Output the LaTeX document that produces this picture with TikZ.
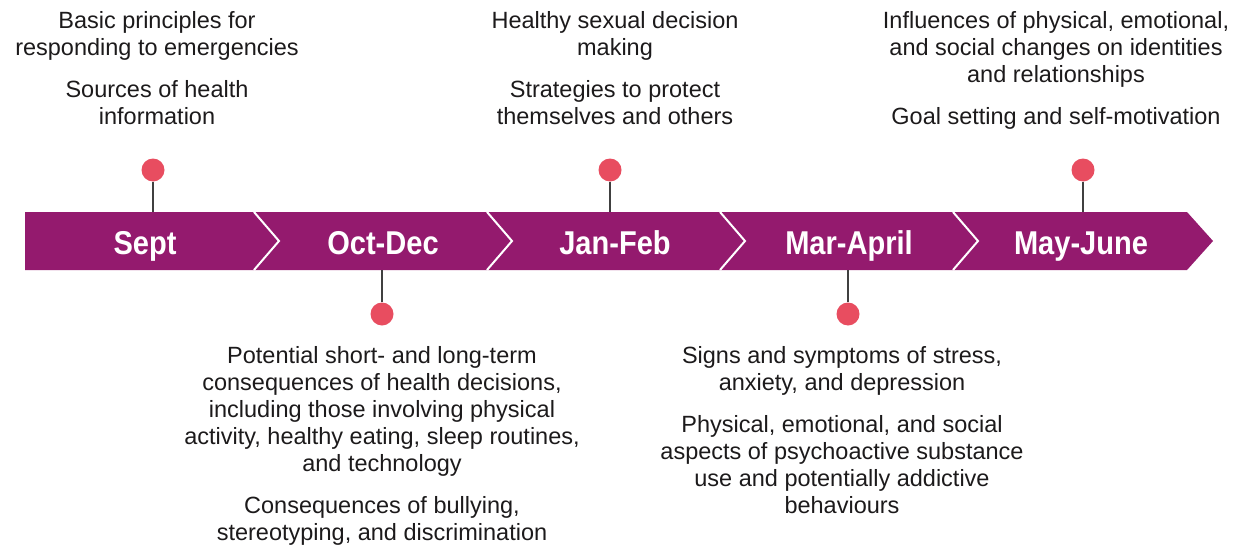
\documentclass[tikz,border=0pt]{standalone}
\usepackage{fontspec}
\setmainfont{Liberation Sans}
\newfontfamily\bandfont[FakeStretch=0.88]{Liberation Sans}
\definecolor{bandpurple}{HTML}{941A6E}
\definecolor{pinred}{HTML}{E84D60}
\definecolor{inkgray}{HTML}{1C1A1B}
\tikzset{
  monthlabel/.style={anchor=base, text=white, inner sep=0pt,
    font=\bandfont\bfseries\fontsize{33}{33}\selectfont},
  topic/.style={align=center, inner sep=0pt, text=inkgray,
    font=\fontsize{23.5}{27}\selectfont},
  pindot/.style={circle, fill=pinred, minimum size=23pt, inner sep=0pt},
  stem/.style={draw=black!75, line width=1.4pt},
  chevron/.style={draw=white, line width=2pt}
}
\begin{document}
\begin{tikzpicture}[x=1pt,y=-1pt]
      \useasboundingbox (0,0) rectangle (1250,546);
      %\draw [help lines] (0,0) grid (1250,546);
      \fill[bandpurple] (25,212) -- (1187,212) -- (1213,241) -- (1187,270) -- (25,270) -- cycle;
      \foreach \x in {254,487,720,953}
        \draw[chevron] (\x,212) -- (\x+25,241) -- (\x,270);

      \node[monthlabel] (sept) at (145,254) {Sept};
      \node[monthlabel] (octdec) at (383,254) {Oct-Dec};
      \node[monthlabel] (janfeb) at (615,254) {Jan-Feb};
      \node[monthlabel] (marapril) at (849,254) {Mar-April};
      \node[monthlabel] (mayjune) at (1081,254) {May-June};

      \node[pindot] (septpin) at (153,170) {};
      \node[pindot] (octdecpin) at (382,314) {};
      \node[pindot] (janfebpin) at (610,170) {};
      \node[pindot] (marapripin) at (848,314) {};
      \node[pindot] (mayjunepin) at (1083,170) {};
      \coordinate (septedge) at (153,212);
      \coordinate (octdecedge) at (382,270);
      \coordinate (janfebedge) at (610,212);
      \coordinate (marapriledge) at (848,270);
      \coordinate (mayjuneedge) at (1083,212);

      \draw[stem] (septpin) -- (septedge);
      \draw[stem] (octdecpin) -- (octdecedge);
      \draw[stem] (janfebpin) -- (janfebedge);
      \draw[stem] (marapripin) -- (marapriledge);
      \draw[stem] (mayjunepin) -- (mayjuneedge);

      \node[topic, anchor=north] (septtext) at (157,11.5)
        {Basic principles for\\responding to emergencies\\[15pt]Sources of health\\information};
      \node[topic, anchor=north] (janfebtext) at (615,11.5)
        {Healthy sexual decision\\making\\[15pt]Strategies to protect\\themselves and others};
      \node[topic, anchor=north] (mayjunetext) at (1056,11.5)
        {Influences of physical, emotional,\\and social changes on identities\\and relationships\\[15pt]Goal setting and self-motivation};
      \node[topic, anchor=north] (octdectext) at (382,346)
        {Potential short- and long-term\\consequences of health decisions,\\including those involving physical\\activity, healthy eating, sleep routines,\\and technology\\[15pt]Consequences of bullying,\\stereotyping, and discrimination};
      \node[topic, anchor=north] (maraprtext) at (842,346)
        {Signs and symptoms of stress,\\anxiety, and depression\\[15pt]Physical, emotional, and social\\aspects of psychoactive substance\\use and potentially addictive\\behaviours};
    \end{tikzpicture}
\end{document}
